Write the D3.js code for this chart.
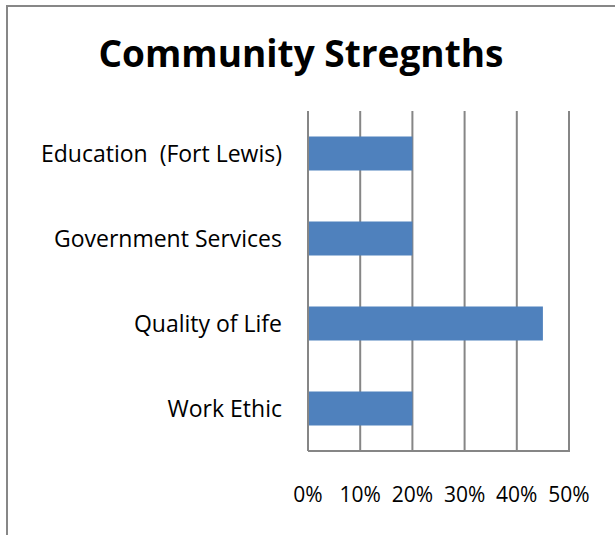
<!DOCTYPE html>
<html>
<head>
<meta charset="utf-8">
<script src="https://cdn.jsdelivr.net/npm/d3@7"></script>
<style>
  body { margin: 0; background: #fff; }
  svg { display: block; }
  text { font-family: "Open Sans", Lato, sans-serif; fill: #000; }
</style>
</head>
<body>
<div id="chart-container"></div>
<script>
(function () {
    'use strict';

    var title = 'Community Stregnths';
    var categories = ['Education  (Fort Lewis)', 'Government Services', 'Quality of Life', 'Work Ethic'];
    var values = [0.20, 0.20, 0.45, 0.20];
    var ticks = [0, 0.1, 0.2, 0.3, 0.4, 0.5];

    var width = 615;
    var height = 535;
    var plot = { left: 308, right: 569, top: 111, bottom: 451 };

    var svg = d3.select('#chart-container')
        .append('svg')
        .attr('width', width)
        .attr('height', height);

    // frame: top and left only
    svg.append('path')
        .attr('d', 'M7,' + height + 'V6H' + width)
        .attr('fill', 'none')
        .attr('stroke', '#878787')
        .attr('stroke-width', 2);

    svg.append('text')
        .attr('x', 301)
        .attr('y', 67)
        .attr('text-anchor', 'middle')
        .style('font-size', '37px')
        .style('font-weight', 'bold')
        .text(title);

    var x = d3.scaleLinear()
        .domain([0, 0.5])
        .range([plot.left, plot.right]);

    var y = d3.scaleBand()
        .domain(categories)
        .range([plot.top, plot.bottom])
        .paddingInner(0.6)
        .paddingOuter(0.3);

    // gridlines
    svg.append('g')
        .selectAll('line')
        .data(ticks)
        .enter()
        .append('line')
        .attr('x1', function (d) { return x(d); })
        .attr('x2', function (d) { return x(d); })
        .attr('y1', plot.top)
        .attr('y2', plot.bottom)
        .attr('stroke', '#868686')
        .attr('stroke-width', 2);

    svg.append('line')
        .attr('x1', plot.left)
        .attr('x2', plot.right + 1)
        .attr('y1', plot.bottom)
        .attr('y2', plot.bottom)
        .attr('stroke', '#868686')
        .attr('stroke-width', 2);

    svg.append('g')
        .selectAll('rect')
        .data(values)
        .enter()
        .append('rect')
        .attr('x', x(0) + 1)
        .attr('y', function (d, i) { return y(categories[i]); })
        .attr('width', function (d) { return x(d) - x(0) - 1; })
        .attr('height', y.bandwidth())
        .attr('fill', '#4f81bd');

    svg.append('g')
        .selectAll('text')
        .data(categories)
        .enter()
        .append('text')
        .attr('x', 282)
        .attr('y', function (d) { return y(d) + y.bandwidth() / 2; })
        .attr('dy', '0.35em')
        .attr('text-anchor', 'end')
        .style('font-size', '23px')
        .style('white-space', 'pre')
        .text(function (d) { return d; });

    svg.append('g')
        .selectAll('text')
        .data(ticks)
        .enter()
        .append('text')
        .attr('x', function (d) { return x(d); })
        .attr('y', 502)
        .attr('text-anchor', 'middle')
        .style('font-size', '21px')
        .text(d3.format('.0%'));
}());
</script>
</body>
</html>
